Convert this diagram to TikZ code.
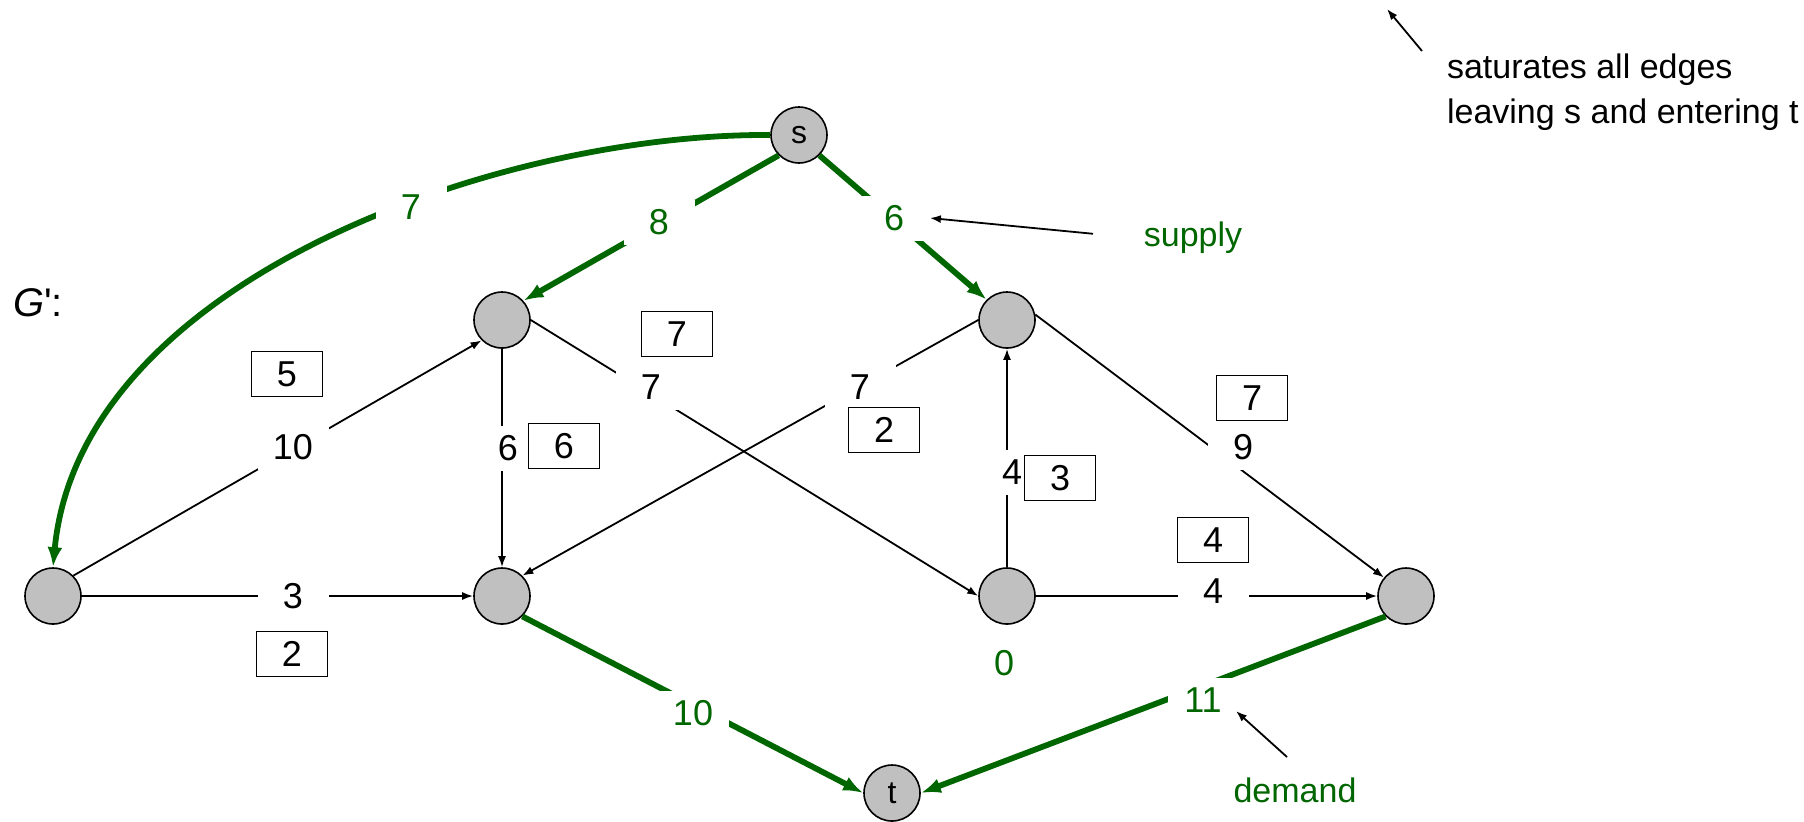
\documentclass[tikz,border=0pt]{standalone}
\usepackage{fontspec}
\setmainfont{Liberation Sans}[Ligatures=TeXOff]
\usetikzlibrary{arrows.meta}
\definecolor{flowgreen}{RGB}{0,102,0}
\definecolor{nodegray}{RGB}{192,192,192}

\begin{document}
\begin{tikzpicture}[x=0.5pt,y=-0.5pt,
  vertex/.style={circle,draw=black,line width=0.8pt,fill=nodegray,minimum size=28pt,inner sep=0pt,font=\fontsize{16}{16}\selectfont},
  blackedge/.style={line width=0.9pt,-{Latex[length=5.5pt,width=4pt]}},
  flowedge/.style={line width=2.9pt,draw=flowgreen,-{Latex[length=10pt,width=7.5pt]}},
  lbl/.style={fill=white,inner sep=0pt,minimum width=35.5pt,minimum height=22.5pt,font=\fontsize{18}{18}\selectfont},
  flbl/.style={lbl,text=flowgreen},
  capbox/.style={draw=black,line width=0.8pt,fill=white,inner sep=0pt,minimum width=35.5pt,minimum height=22.5pt,font=\fontsize{18}{18}\selectfont},
  note/.style={font=\fontsize{17}{22.5}\selectfont},
  pointer/.style={line width=0.9pt,-{Latex[length=5.5pt,width=4pt]}}
]
\useasboundingbox (0,0) rectangle (1804,821);

% vertices
\node[vertex] (s) at (799,135) {s};
\node[vertex] (a) at (502,320) {};
\node[vertex] (b) at (1007,320) {};
\node[vertex] (l) at (53,596) {};
\node[vertex] (c) at (502,596) {};
\node[vertex] (d) at (1007,596) {};
\node[vertex] (r) at (1406,596) {};
\node[vertex] (t) at (892,793) {t};

% supply and demand edges
\draw[flowedge] (s.west) .. controls (500,133) and (80,280) .. (l.north);
\draw[flowedge] (s.225) -- (a.42);
\draw[flowedge] (s.-45) -- (b.135);
\draw[flowedge] (c.-45) -- (t.west);
\draw[flowedge] (r.-135) -- (t.east);

% inner edges
\draw[blackedge] (l.45) -- (a.225);
\draw[blackedge] (l.east) -- (c.west);
\draw[blackedge] (a.south) -- (c.north);
\draw[blackedge] (a.east) -- (d.west);
\draw[blackedge] (b.west) -- (c.45);
\draw[blackedge] (d.north) -- (b.south);
\draw[blackedge] (b.11) -- (r.140);
\draw[blackedge] (d.east) -- (r.west);

% supplies and demands
\node[flbl] (f7) at (411,207) {7};
\node[flbl] (f8) at (659,222) {8};
\node[flbl] (f6) at (894,218) {6};
\node[flbl] (f10) at (693,713) {10};
\node[flbl] (f11) at (1203,700) {11};
\node[text=flowgreen,font=\fontsize{18}{18}\selectfont] (f0) at (1004,663) {0};

% capacities
\node[lbl] (w10) at (293,447) {10};
\node[lbl] (w3) at (293,596) {3};
\node[lbl,minimum width=14pt] (w6) at (508,448) {6};
\node[lbl] (w7a) at (651,387) {7};
\node[lbl] (w7b) at (860,387) {7};
\node[lbl,minimum width=14pt] (w4a) at (1012,472) {4};
\node[lbl] (w9) at (1243,447) {9};
\node[lbl] (w4b) at (1213,591) {4};

% flow values
\node[capbox] (x5) at (287,374) {5};
\node[capbox] (x7a) at (677,334) {7};
\node[capbox] (x6) at (564,446) {6};
\node[capbox] (x2a) at (884,430) {2};
\node[capbox] (x3) at (1060,478) {3};
\node[capbox] (x7b) at (1252,398) {7};
\node[capbox] (x4) at (1213,540) {4};
\node[capbox] (x2b) at (292,654) {2};

% title
\node[anchor=west,font=\fontsize{20}{20}\selectfont] (gp) at (6,303) {{\itshape G}':};

% annotations
\node[note,anchor=west,align=left] (sat) at (1440,92) {saturates all edges\\leaving s and entering t};
\coordinate (satTail) at (1422,51);
\coordinate (satTip) at (1387,9);
\draw[pointer] (satTail) -- (satTip);

\node[note,text=flowgreen] (supply) at (1193,238) {supply};
\draw[pointer,shorten <=22pt] (supply.west) -- (f6.east);

\node[note,text=flowgreen] (demand) at (1295,790) {demand};
\coordinate (demTail) at (1287,757);
\coordinate (demTip) at (1236,711);
\draw[pointer] (demTail) -- (demTip);
\end{tikzpicture}
\end{document}
